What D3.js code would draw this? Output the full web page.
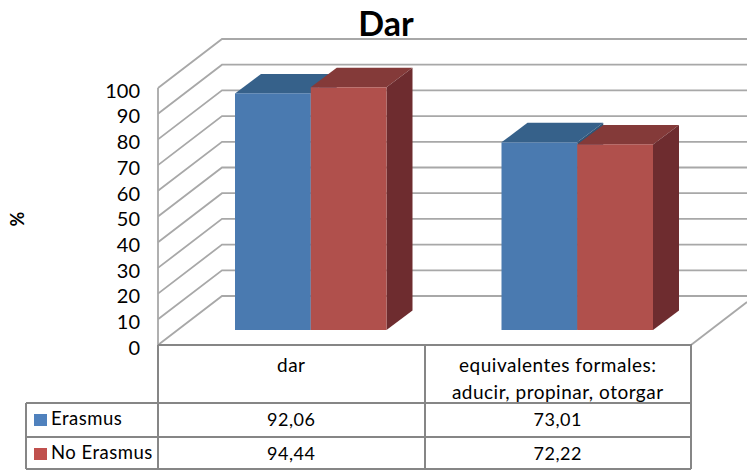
<!DOCTYPE html>
<html>
<head>
<meta charset="utf-8">
<script src="https://cdnjs.cloudflare.com/ajax/libs/d3/7.8.5/d3.min.js"></script>
<style>
html,body{margin:0;padding:0;background:#fff}
svg{display:block}
text{font-family:Lato,"Open Sans",sans-serif;fill:#000}
</style>
</head>
<body>
<svg id="chart" width="747" height="470"></svg>
<script>
const categories = ["dar", "equivalentes formales:|aducir, propinar, otorgar"];
const seriesNames = ["Erasmus", "No Erasmus"];
const erasmus = [92.06, 73.01];
const noErasmus = [94.44, 72.22];
const seriesValues = [erasmus, noErasmus];
const yTicks = [0, 10, 20, 30, 40, 50, 60, 70, 80, 90, 100];
const chartTitle = "Dar";
const yTitle = "%";

const front = {"Erasmus": "#4a7ab0", "No Erasmus": "#b0504c"};
const topFace = {"Erasmus": "#36618a", "No Erasmus": "#843a39"};
const sideFace = {"Erasmus": "#2f5578", "No Erasmus": "#6e2c2f"};
const swatch = {"Erasmus": "#4f81bd", "No Erasmus": "#c0504d"};
const gridColor = "#a8a8a8";
const tableColor = "#868686";

const svg = d3.select("#chart");

// Projection of the 3D box: front plane, back wall offset, bar offset within the box
const y = d3.scaleLinear().domain([0, 100]).range([345, 88]);
const x = d3.scaleBand().domain(d3.range(categories.length)).range([158, 691]);
const wall = {dx: 64, dy: -49};
const barLift = 15;
const barDepth = {dx: 26, dy: -19.5};
const inner = d3.scaleBand().domain(seriesNames).paddingInner(0).paddingOuter(0);
const groupPadLeft = 77;
const groupPadRight = 38;

// Back wall and side wall gridlines
const grid = svg.append("g").attr("fill", "none").attr("stroke", gridColor).attr("stroke-width", 1.8);
grid.selectAll("path.g").data(yTicks).join("path").attr("class", "g")
  .attr("d", t => `M158,${y(t)}L${158 + wall.dx},${y(t) + wall.dy}H747`);
grid.append("path").attr("d", `M158,${y(100)}V${y(0)}`);

// Right edge of the floor
grid.append("path").attr("d", `M691,${y(0)}L747,${y(0) - 43}`);

// Bars
categories.forEach((c, i) => {
  inner.range([x(i) + groupPadLeft, x(i) + x.bandwidth() - groupPadRight]);
  seriesNames.forEach((s, k) => {
    const v = seriesValues[k][i];
    const x0 = inner(s), w = inner.bandwidth();
    const yTop = y(v) - barLift, yBase = y(0) - barLift;
    const {dx, dy} = barDepth;
    svg.append("path").attr("fill", topFace[s])
      .attr("d", `M${x0},${yTop}l${dx},${dy}h${w}l${-dx},${-dy}Z`);
    svg.append("path").attr("fill", sideFace[s])
      .attr("d", `M${x0 + w},${yTop}l${dx},${dy}V${yBase + dy}l${-dx},${-dy}Z`);
    svg.append("rect").attr("fill", front[s])
      .attr("x", x0).attr("y", yTop).attr("width", w).attr("height", yBase - yTop);
  });
});

// Value axis labels
const axis = d3.axisLeft(y).tickValues(yTicks).tickSize(0).tickPadding(0);
const axisG = svg.append("g").attr("transform", "translate(140,2)").call(axis);
axisG.select(".domain").remove();
axisG.selectAll("text").attr("font-size", 20).style("font-family", "Lato,sans-serif").attr("dy", "0.36em");

// Title and value axis title
svg.append("text").attr("x", 386).attr("y", 36).attr("text-anchor", "middle")
  .attr("font-size", 34).attr("font-weight", 700).text(chartTitle);
svg.append("text").attr("transform", "translate(24,219) rotate(-90)").attr("text-anchor", "middle")
  .attr("font-size", 18).attr("font-weight", 700).text(yTitle);

// Category labels
categories.forEach((c, i) => {
  c.split("|").forEach((line, j) => {
    svg.append("text").attr("x", x(i) + x.bandwidth() / 2).attr("y", 372 + j * 27)
      .attr("text-anchor", "middle").attr("font-size", 19)
      .attr("letter-spacing", 0.5).text(line);
  });
});

// Data table below the plot
const rowY = d3.scalePoint().domain(seriesNames).range([403, 437]);
svg.append("rect").attr("x", 26).attr("y", 403.5).attr("width", 664.5).attr("height", 65).attr("fill", "#fff");
const tbl = svg.append("g").attr("fill", "none").attr("stroke", tableColor).attr("stroke-width", 2);
tbl.append("path").attr("d", `M158,${y(0)}H691V469`);
tbl.append("path").attr("d", `M158,${y(0)}V469`);
tbl.append("path").attr("d", `M425,${y(0)}V469`);
[403, 437, 469].forEach(v => tbl.append("path").attr("d", `M26,${v}H691`));
tbl.append("path").attr("d", "M26,403V469");

seriesNames.forEach((s, k) => {
  const ry = rowY(s);
  svg.append("rect").attr("x", 34).attr("y", ry + 11).attr("width", 13).attr("height", 12).attr("fill", swatch[s]);
  svg.append("text").attr("x", 51).attr("y", ry + 22).attr("font-size", 18.5).attr("letter-spacing", 0.5).text(s);
  categories.forEach((c, i) => {
    svg.append("text").attr("x", x(i) + x.bandwidth() / 2).attr("y", ry + 23)
      .attr("text-anchor", "middle").attr("font-size", 18).attr("letter-spacing", 0.5)
      .text(seriesValues[k][i].toFixed(2).replace(".", ","));
  });
});
</script>
</body>
</html>
